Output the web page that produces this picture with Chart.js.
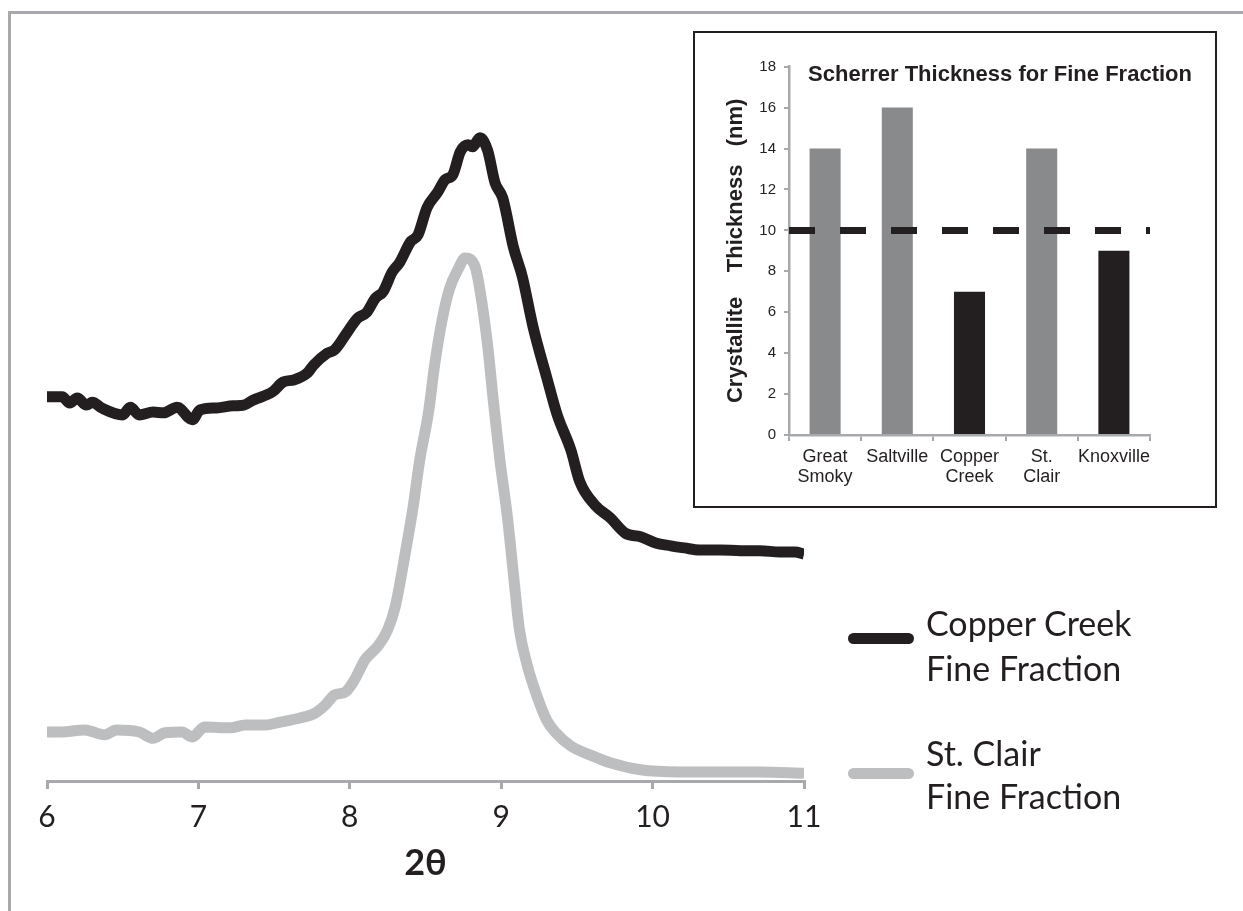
<!DOCTYPE html>
<html>
<head>
<meta charset="utf-8">
<title>Fine fraction XRD</title>
<script src="https://cdn.jsdelivr.net/npm/chart.js@4.4.1/dist/chart.umd.min.js"></script>
<style>
  html, body { margin: 0; padding: 0; background: #fff; }
  body { width: 1243px; height: 911px; position: relative; overflow: hidden; }
  .frame { position: absolute; left: 8px; top: 11px; width: 1400px; height: 1000px;
           border-top: 3px solid #a7a9ac; border-left: 3px solid #a7a9ac; }
  #xrd { position: absolute; left: 0; top: 0; }
  .inset { position: absolute; left: 693px; top: 31px; width: 524px; height: 477px;
           box-sizing: border-box; border: 2px solid #231f20; background: #fff; }
  #scherrer { position: absolute; left: 0; top: 0; }
  .inset-title { position: absolute; left: 305px; top: 41px; transform: translate(-50%, -50%);
                 white-space: nowrap; font: bold 22px 'Liberation Sans', Arial, sans-serif; color: #231f20; }
  .swatch { position: absolute; left: 848px; width: 66px; height: 11px; border-radius: 6px; }
  .legend-text { position: absolute; left: 926px; font: 34px Lato, sans-serif; color: #231f20; white-space: nowrap; }
</style>
</head>
<body>
<div class="frame"></div>
<canvas id="xrd" width="1243" height="911"></canvas>
<div class="inset">
  <canvas id="scherrer" width="520" height="473"></canvas>
  <div class="inset-title">Scherrer Thickness for Fine Fraction</div>
</div>
<div id="legend"></div>
<script>
// main XRD traces, 2θ in degrees, intensity in arbitrary units
const copperTheta = [6.00, 6.10, 6.15, 6.20, 6.26, 6.30, 6.36, 6.50, 6.55, 6.61, 6.70, 6.77, 6.86, 6.96, 7.01, 7.12, 7.23, 7.30, 7.36, 7.49, 7.56, 7.63, 7.72, 7.76, 7.85, 7.90, 7.98, 8.05, 8.11, 8.17, 8.22, 8.28, 8.33, 8.40, 8.45, 8.51, 8.58, 8.63, 8.68, 8.73, 8.78, 8.81, 8.86, 8.91, 8.96, 9.01, 9.08, 9.14, 9.21, 9.30, 9.37, 9.46, 9.52, 9.62, 9.72, 9.82, 9.92, 10.02, 10.12, 10.21, 10.31, 10.45, 10.58, 10.71, 10.84, 10.94, 11.00];
const copperIntensity = [54.9, 54.9, 54.0, 54.7, 53.7, 54.1, 53.3, 52.3, 53.4, 52.3, 52.7, 52.6, 53.4, 51.6, 53.0, 53.3, 53.6, 53.7, 54.4, 55.6, 57.0, 57.3, 58.3, 59.4, 61.1, 61.6, 64.0, 66.1, 66.9, 69.0, 69.9, 72.7, 74.1, 77.0, 78.0, 81.9, 84.1, 85.9, 86.6, 89.9, 90.9, 90.6, 91.9, 90.1, 85.4, 83.3, 76.3, 72.0, 64.9, 57.7, 52.3, 47.3, 42.7, 39.4, 37.6, 35.4, 34.9, 34.0, 33.6, 33.3, 33.0, 33.0, 32.9, 32.9, 32.7, 32.7, 32.4];

const stClairTheta = [6.00, 6.09, 6.25, 6.38, 6.46, 6.61, 6.70, 6.78, 6.89, 6.96, 7.04, 7.21, 7.31, 7.44, 7.54, 7.67, 7.77, 7.84, 7.90, 7.97, 8.03, 8.10, 8.19, 8.25, 8.30, 8.37, 8.42, 8.46, 8.52, 8.56, 8.61, 8.66, 8.72, 8.76, 8.79, 8.83, 8.86, 8.91, 8.95, 8.99, 9.04, 9.08, 9.12, 9.17, 9.24, 9.30, 9.36, 9.46, 9.59, 9.72, 9.92, 10.18, 10.45, 10.71, 11.00];
const stClairIntensity = [7.0, 7.0, 7.3, 6.6, 7.3, 7.0, 6.1, 6.9, 7.0, 6.3, 7.7, 7.6, 8.0, 8.0, 8.4, 9.0, 9.7, 10.9, 12.3, 12.7, 14.4, 17.3, 19.4, 21.6, 24.9, 33.0, 39.4, 45.6, 52.7, 59.4, 65.9, 70.4, 73.3, 74.7, 74.6, 73.3, 70.1, 62.3, 53.9, 46.1, 37.9, 29.7, 21.7, 16.7, 11.9, 8.7, 6.9, 5.0, 3.7, 2.6, 1.6, 1.3, 1.3, 1.3, 1.1];

const thetaTicks = [6, 7, 8, 9, 10, 11];

// inset: Scherrer thickness
const sites = [['Great', 'Smoky'], 'Saltville', ['Copper', 'Creek'], ['St.', 'Clair'], 'Knoxville'];
const thicknessNm = [14, 16, 7, 14, 9];
const thresholdNm = 10;
const thicknessTicks = [0, 2, 4, 6, 8, 10, 12, 14, 16, 18];

const toPoints = (xs, ys) => xs.map((x, i) => ({ x, y: ys[i] }));

const INK = '#231f20';
const AXIS = '#a7a9ac';

const traces = [
  { label: ['Copper Creek', 'Fine Fraction'], data: toPoints(copperTheta, copperIntensity), color: INK },
  { label: ['St. Clair', 'Fine Fraction'], data: toPoints(stClairTheta, stClairIntensity), color: '#bcbec0' },
];

new Chart(document.getElementById('xrd'), {
  type: 'line',
  data: {
    datasets: traces.map((t) => ({
      label: t.label.join(' '),
      data: t.data,
      borderColor: t.color,
      borderWidth: 11,
      borderJoinStyle: 'round',
      pointRadius: 0,
      cubicInterpolationMode: 'monotone',
    })),
  },
  options: {
    responsive: false,
    animation: false,
    layout: { padding: { left: 47, right: 439, top: 81, bottom: 26 } },
    plugins: { legend: { display: false }, tooltip: { enabled: false } },
    scales: {
      x: {
        type: 'linear',
        min: thetaTicks[0],
        max: thetaTicks[thetaTicks.length - 1],
        afterFit: (s) => { s.height = 104; },
        border: { display: true, color: AXIS, width: 3 },
        grid: { drawOnChartArea: false, tickLength: 8, color: AXIS, lineWidth: 3 },
        ticks: { stepSize: 1, padding: 10, color: INK, maxRotation: 0, font: { family: 'Lato', size: 30 } },
        title: {
          display: true,
          text: '2θ',
          color: INK,
          padding: { top: 0, bottom: 0 },
          font: { family: 'Lato', size: 36, weight: 'bold' },
        },
      },
      y: { display: false, min: 0, max: 100 },
    },
  },
});

// legend in the right margin
const legend = document.getElementById('legend');
const legendPos = [
  { swatchTop: 632.5, textTop: 599.5, lh: 45 },
  { swatchTop: 767.5, textTop: 730.5, lh: 43 },
];
traces.forEach((t, i) => {
  const sw = document.createElement('div');
  sw.className = 'swatch';
  sw.style.top = legendPos[i].swatchTop + 'px';
  sw.style.background = t.color;
  legend.appendChild(sw);
  const tx = document.createElement('div');
  tx.className = 'legend-text';
  tx.style.top = legendPos[i].textTop + 'px';
  tx.style.lineHeight = legendPos[i].lh + 'px';
  tx.innerHTML = t.label.join('<br>');
  legend.appendChild(tx);
});

new Chart(document.getElementById('scherrer'), {
  type: 'bar',
  data: {
    labels: sites,
    datasets: [
      {
        type: 'line',
        xAxisID: 'xLine',
        data: [{ x: 0, y: thresholdNm }, { x: sites.length, y: thresholdNm }],
        borderColor: INK,
        borderWidth: 7,
        borderDash: [26, 25],
        borderCapStyle: 'butt',
        pointRadius: 0,
        order: 0,
      },
      {
        data: thicknessNm,
        backgroundColor: thicknessNm.map((v) => (v > thresholdNm ? '#898a8c' : INK)),
        barPercentage: 0.43,
        categoryPercentage: 1,
        grouped: false,
        order: 1,
      },
    ],
  },
  options: {
    responsive: false,
    animation: false,
    layout: { padding: { left: 14, right: 65, top: 33.7, bottom: 1 } },
    plugins: { legend: { display: false }, tooltip: { enabled: false } },
    scales: {
      x: {
        afterFit: (s) => { s.height = 70; },
        border: { color: AXIS, width: 2.5 },
        grid: { offset: true, drawOnChartArea: false, tickLength: 6, color: AXIS, lineWidth: 2 },
        ticks: { padding: 6, color: INK, maxRotation: 0, autoSkip: false,
                 font: { family: 'Liberation Sans', size: 18, lineHeight: 1.1 } },
      },
      xLine: { type: 'linear', display: false, offset: false, min: 0, max: sites.length },
      y: {
        min: thicknessTicks[0],
        max: thicknessTicks[thicknessTicks.length - 1],
        afterFit: (s) => { s.width = 80; },
        border: { color: AXIS, width: 2.5 },
        grid: { drawOnChartArea: false, tickLength: 5, color: AXIS, lineWidth: 2 },
        ticks: { stepSize: 2, padding: 8, color: INK, font: { family: 'Liberation Sans', size: 15 } },
        title: {
          display: true,
          text: 'Crystallite    Thickness   (nm)',
          color: INK,
          padding: { top: 14, bottom: 0 },
          font: { family: 'Liberation Sans', size: 22, weight: 'bold' },
        },
      },
    },
  },
});
</script>
</body>
</html>
